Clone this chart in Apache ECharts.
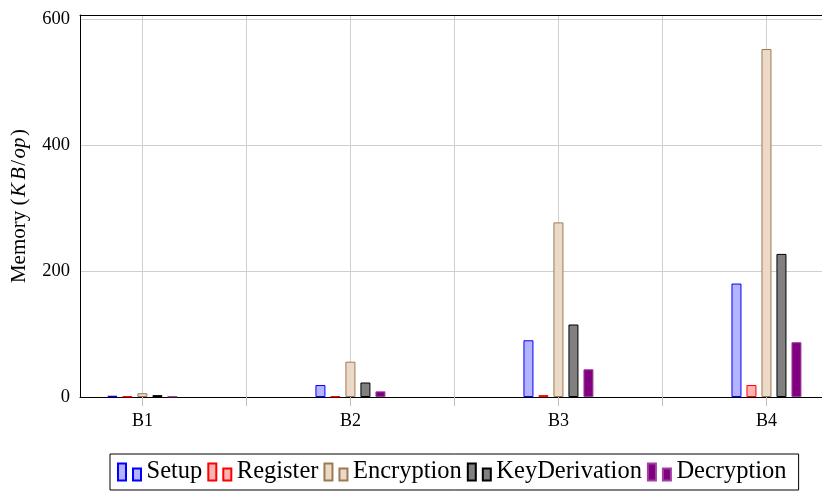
<!DOCTYPE html>
<html>
<head>
<meta charset="utf-8">
<script src="https://cdn.jsdelivr.net/npm/echarts@6/dist/echarts.min.js"></script>
<style>html,body{margin:0;padding:0;background:#fff}#c{width:822px;height:493px}</style>
</head>
<body>
<div id="c"></div>
<script>
const categories = ['B1', 'B2', 'B3', 'B4'];
const setup = [2, 19, 90, 180];
const register = [1, 1, 3, 19];
const encryption = [6, 56, 277, 552];
const keyDerivation = [3, 23, 115, 227];
const decryption = [1, 9, 44, 87];
const yTicks = [0, 200, 400, 600];

const FONT = '"Liberation Serif", "DejaVu Serif", serif';
const chart = echarts.init(document.getElementById('c'));

function mk(name, arr, fill, stroke) {
  return {
    name: name,
    type: 'bar',
    barWidth: 10,
    barGap: '50%',
    data: arr.map((v, i) => [i, v]),
    itemStyle: { color: fill, borderColor: stroke, borderWidth: 1 },
    emphasis: { disabled: true }
  };
}

chart.setOption({
  animation: false,
  grid: { left: 80, right: 0, top: 15, bottom: 96, show: false },
  legend: {
    left: 110, top: 454,
    orient: 'horizontal',
    padding: [4, 12, 4, 7],
    borderColor: '#000', borderWidth: 1,
    itemGap: 5,
    itemWidth: 24, itemHeight: 17,
    icon: 'path://M0,0H8V17H0Z M15,5H23V17H15Z',
    textStyle: { fontFamily: FONT, fontSize: 24.5, color: '#000', padding: [0, 0, 0, 0], lineHeight: 28 },
    data: ['Setup', 'Register', 'Encryption', 'KeyDerivation', 'Decryption']
  },
  xAxis: [{
    type: 'value',
    min: -0.3, max: 3.267,
    axisLine: { show: true, onZero: false, lineStyle: { color: '#000', width: 1 } },
    axisTick: { show: true, inside: false, length: 9, lineStyle: { color: '#bbb' }, customValues: [0, 0.5, 1, 1.5, 2, 2.5, 3] },
    splitLine: { show: true, lineStyle: { color: '#cfcfcf', width: 1 } },
    axisLabel: {
      customValues: [0, 1, 2, 3],
      formatter: v => categories[Math.round(v)] || '',
      fontFamily: FONT, fontSize: 18, color: '#000', margin: 15
    }
  }, {
    type: 'value',
    position: 'top',
    min: -0.3, max: 3.267,
    axisLine: { show: true, onZero: false, lineStyle: { color: '#000', width: 1 } },
    axisTick: { show: false },
    axisLabel: { show: false },
    splitLine: { show: false }
  }],
  yAxis: {
    type: 'value',
    min: 0, max: 606,
    axisLine: { show: true, onZero: false, lineStyle: { color: '#000' } },
    axisTick: { show: false, customValues: yTicks },
    axisLabel: { customValues: yTicks, fontFamily: FONT, fontSize: 18.5, color: '#000', margin: 10 },
    splitLine: { show: true, lineStyle: { color: '#cfcfcf', width: 1 } },
    name: '{n|Memory (}{i|K}{i|B}{n|/}{i|op}{n|)}',
    nameLocation: 'middle',
    nameRotate: 90,
    nameGap: 50,
    nameTextStyle: {
      rich: {
        n: { fontFamily: FONT, fontSize: 21, color: '#000' },
        i: { fontFamily: FONT, fontSize: 21, fontStyle: 'italic', color: '#000', padding: [0, 1.5, 0, 1.5] }
      }
    }
  },
  series: [
    mk('Setup', setup, '#b3b3ff', '#0000ff'),
    mk('Register', register, '#ffb3b3', '#ff0000'),
    mk('Encryption', encryption, '#ecd9c6', '#9c7a58'),
    mk('KeyDerivation', keyDerivation, '#808080', '#000000'),
    mk('Decryption', decryption, '#800080', '#a040a0')
  ]
});
</script>
</body>
</html>
